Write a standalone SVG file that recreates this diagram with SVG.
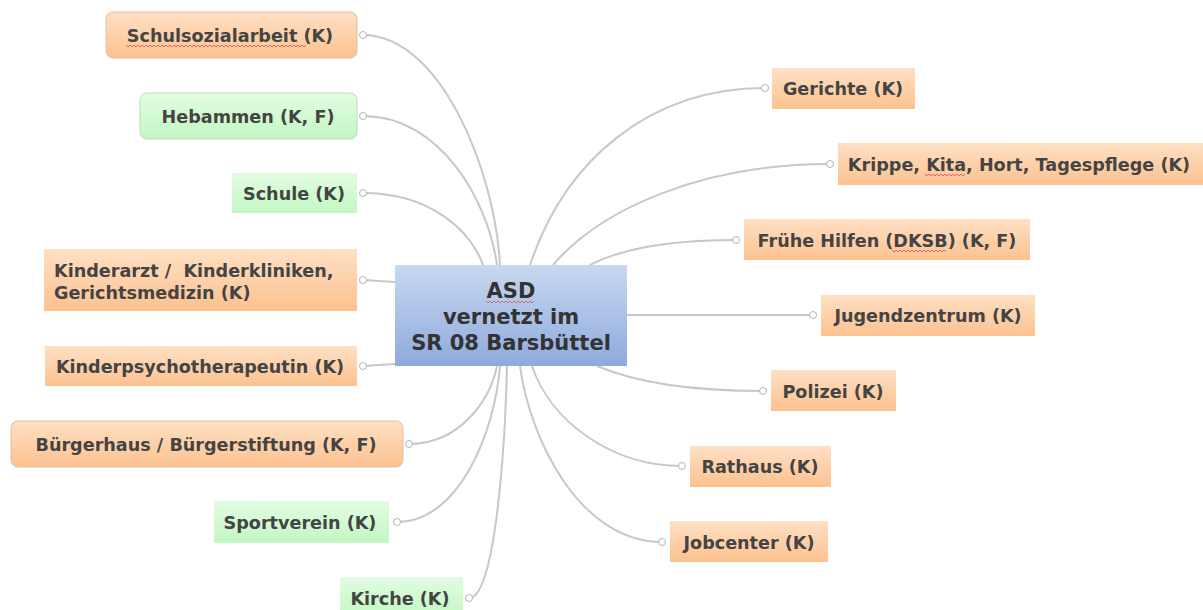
<svg xmlns="http://www.w3.org/2000/svg" width="1203" height="610" viewBox="0 0 1203 610">
<defs>
<linearGradient id="gOr" x1="0" y1="0" x2="0" y2="1"><stop offset="0" stop-color="#fee0c4"/><stop offset="1" stop-color="#fcc290"/></linearGradient>
<linearGradient id="gGr" x1="0" y1="0" x2="0" y2="1"><stop offset="0" stop-color="#e2fde2"/><stop offset="1" stop-color="#c3f7c3"/></linearGradient>
<linearGradient id="gBl" x1="0" y1="0" x2="0" y2="1"><stop offset="0" stop-color="#c8d8f0"/><stop offset="1" stop-color="#8eaadc"/></linearGradient>
<style>
.t{font-family:"DejaVu Sans",Verdana,sans-serif;font-weight:bold;font-size:17.6px;fill:#444;white-space:pre}
.tc{font-family:"DejaVu Sans",Verdana,sans-serif;font-weight:bold;font-size:21px;fill:#333}
.or{fill:url(#gOr)}
.gr{fill:url(#gGr)}
.orr{fill:url(#gOr);stroke:#dcc0a4;stroke-width:1}
.grr{fill:url(#gGr);stroke:#bcd8bc;stroke-width:1}
.c{fill:none;stroke:#c8c8c8;stroke-width:2}
.d{fill:#fff;stroke:#b4b4b4;stroke-width:1}
.sq{fill:none;stroke:#e05050;stroke-width:0.8}
</style>
</defs>
<rect width="1203" height="610" fill="#fff"/>
<g id="connectors">
<path class="c" d="M363,35 C440,35 495,170 500,265"/>
<path class="c" d="M363,116 C440,116 488,200 497,265"/>
<path class="c" d="M363,193 C430,193 470,230 483,265"/>
<path class="c" d="M363,280 L395,282"/>
<path class="c" d="M363,366 L395,364"/>
<path class="c" d="M409,444 C460,444 490,400 497,366"/>
<path class="c" d="M397,522 C460,522 495,430 500,366"/>
<path class="c" d="M469,598 C495,598 505,450 507,366"/>
<path class="c" d="M765,88 C650,88 565,160 530,265"/>
<path class="c" d="M830,164 C700,164 600,210 553,265"/>
<path class="c" d="M736,240 C660,240 615,252 590,265"/>
<path class="c" d="M627,315 L813,315"/>
<path class="c" d="M763,391 C680,391 630,380 597,366"/>
<path class="c" d="M682,466 C610,466 550,420 532,366"/>
<path class="c" d="M662,542 C580,542 530,440 520,366"/>
<circle class="d" cx="363" cy="35" r="3.5"/>
<circle class="d" cx="363" cy="116" r="3.5"/>
<circle class="d" cx="363" cy="193" r="3.5"/>
<circle class="d" cx="363" cy="280" r="3.5"/>
<circle class="d" cx="363" cy="366" r="3.5"/>
<circle class="d" cx="409" cy="444" r="3.5"/>
<circle class="d" cx="397" cy="522" r="3.5"/>
<circle class="d" cx="469" cy="598" r="3.5"/>
<circle class="d" cx="765" cy="88" r="3.5"/>
<circle class="d" cx="830" cy="164" r="3.5"/>
<circle class="d" cx="736" cy="240" r="3.5"/>
<circle class="d" cx="813" cy="315" r="3.5"/>
<circle class="d" cx="763" cy="391" r="3.5"/>
<circle class="d" cx="682" cy="466" r="3.5"/>
<circle class="d" cx="662" cy="542" r="3.5"/>
</g>
<g id="center">
<rect x="395" y="265" width="232" height="101" fill="url(#gBl)"/>
<text class="tc" x="511" y="298" text-anchor="middle">ASD</text>
<text class="tc" x="511" y="324" text-anchor="middle">vernetzt im</text>
<text class="tc" x="511" y="350" text-anchor="middle">SR 08 Barsbüttel</text>
<path class="sq" d="M486,301 l2,2 l2,-2 l2,2 l2,-2 l2,2 l2,-2 l2,2 l2,-2 l2,2 l2,-2 l2,2 l2,-2 l2,2 l2,-2 l2,2 l2,-2 l2,2 l2,-2 l2,2 l2,-2 l2,2 l2,-2 l2,2 l2,-2"/>
</g>
<g id="n-schulsozialarbeit">
<rect class="orr" x="106" y="12" width="251" height="46" rx="7"/>
<text class="t" x="230" y="42" text-anchor="middle">Schulsozialarbeit (K)</text>
<path class="sq" d="M126,45 l2,2 l2,-2 l2,2 l2,-2 l2,2 l2,-2 l2,2 l2,-2 l2,2 l2,-2 l2,2 l2,-2 l2,2 l2,-2 l2,2 l2,-2 l2,2 l2,-2 l2,2 l2,-2 l2,2 l2,-2 l2,2 l2,-2 l2,2 l2,-2 l2,2 l2,-2 l2,2 l2,-2 l2,2 l2,-2 l2,2 l2,-2 l2,2 l2,-2 l2,2 l2,-2 l2,2 l2,-2 l2,2 l2,-2 l2,2 l2,-2 l2,2 l2,-2 l2,2 l2,-2 l2,2 l2,-2 l2,2 l2,-2 l2,2 l2,-2 l2,2 l2,-2 l2,2 l2,-2 l2,2 l2,-2 l2,2 l2,-2 l2,2 l2,-2 l2,2 l2,-2 l2,2 l2,-2 l2,2 l2,-2 l2,2 l2,-2 l2,2 l2,-2 l2,2 l2,-2 l2,2 l2,-2 l2,2 l2,-2 l2,2 l2,-2 l2,2 l2,-2 l2,2 l2,-2 l2,2 l2,-2 l2,2 l2,-2"/>
</g>
<g id="n-hebammen">
<rect class="grr" x="140" y="93" width="217" height="46" rx="7"/>
<text class="t" x="248" y="123" text-anchor="middle">Hebammen (K, F)</text>
</g>
<g id="n-schule">
<rect class="gr" x="232" y="173" width="125" height="40"/>
<text class="t" x="294" y="200" text-anchor="middle">Schule (K)</text>
</g>
<g id="n-kinderarzt">
<rect class="or" x="44" y="249" width="313" height="62"/>
<text class="t" x="54" y="277">Kinderarzt /  Kinderkliniken,</text>
<text class="t" x="54" y="299">Gerichtsmedizin (K)</text>
</g>
<g id="n-kinderpsych">
<rect class="or" x="45" y="346" width="312" height="40"/>
<text class="t" x="200" y="373" text-anchor="middle">Kinderpsychotherapeutin (K)</text>
</g>
<g id="n-buergerhaus">
<rect class="orr" x="11" y="421" width="392" height="46" rx="7"/>
<text class="t" x="206" y="451" text-anchor="middle">Bürgerhaus / Bürgerstiftung (K, F)</text>
</g>
<g id="n-sportverein">
<rect class="gr" x="214" y="501" width="175" height="42"/>
<text class="t" x="300" y="529" text-anchor="middle">Sportverein (K)</text>
</g>
<g id="n-kirche">
<rect class="gr" x="340" y="577" width="123" height="40"/>
<text class="t" x="400" y="605" text-anchor="middle">Kirche (K)</text>
</g>
<g id="n-gerichte">
<rect class="or" x="772" y="68" width="143" height="41"/>
<text class="t" x="843" y="95" text-anchor="middle">Gerichte (K)</text>
</g>
<g id="n-krippe">
<rect class="or" x="838" y="143" width="365" height="42"/>
<text class="t" x="1019" y="171" text-anchor="middle">Krippe, Kita, Hort, Tagespflege (K)</text>
<path class="sq" d="M925,174 l2,2 l2,-2 l2,2 l2,-2 l2,2 l2,-2 l2,2 l2,-2 l2,2 l2,-2 l2,2 l2,-2 l2,2 l2,-2 l2,2 l2,-2 l2,2 l2,-2 l2,2 l2,-2"/>
</g>
<g id="n-fruehehilfen">
<rect class="or" x="744" y="219" width="286" height="41"/>
<text class="t" x="887" y="247" text-anchor="middle">Frühe Hilfen (DKSB) (K, F)</text>
<path class="sq" d="M892,250 l2,2 l2,-2 l2,2 l2,-2 l2,2 l2,-2 l2,2 l2,-2 l2,2 l2,-2 l2,2 l2,-2 l2,2 l2,-2 l2,2 l2,-2 l2,2 l2,-2 l2,2 l2,-2 l2,2 l2,-2 l2,2 l2,-2 l2,2 l2,-2 l2,2"/>
</g>
<g id="n-jugendzentrum">
<rect class="or" x="821" y="295" width="214" height="41"/>
<text class="t" x="928" y="322" text-anchor="middle">Jugendzentrum (K)</text>
</g>
<g id="n-polizei">
<rect class="or" x="771" y="370" width="125" height="41"/>
<text class="t" x="833" y="398" text-anchor="middle">Polizei (K)</text>
</g>
<g id="n-rathaus">
<rect class="or" x="690" y="446" width="141" height="41"/>
<text class="t" x="760" y="473" text-anchor="middle">Rathaus (K)</text>
</g>
<g id="n-jobcenter">
<rect class="or" x="670" y="521" width="158" height="41"/>
<text class="t" x="749" y="549" text-anchor="middle">Jobcenter (K)</text>
</g>
</svg>
